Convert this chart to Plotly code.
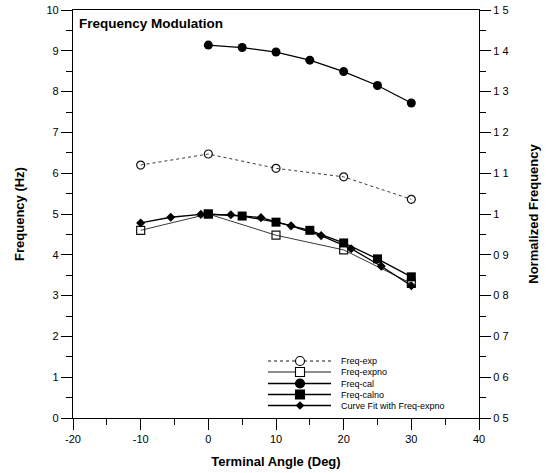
import plotly.graph_objects as go

# data
exp_x = [-10, 0, 10, 20, 30]
freq_exp = [6.2, 6.47, 6.12, 5.91, 5.36]
freq_expno = [4.6, 5.0, 4.48, 4.12, 3.3]

cal_x = [0, 5, 10, 15, 20, 25, 30]
freq_cal = [9.14, 9.08, 8.97, 8.77, 8.49, 8.15, 7.72]
freq_calno = [5.0, 4.95, 4.8, 4.6, 4.29, 3.9, 3.46]

fit_x = [-10, -5.56, -1.11, 3.33, 7.78, 12.22, 16.67, 21.11, 25.56, 30]
fit_y = [4.78, 4.92, 4.99, 4.98, 4.91, 4.71, 4.47, 4.15, 3.72, 3.24]

x_ticks = [-20, -10, 0, 10, 20, 30, 40]
x_text = ["-20", "-10", "0", "10", "20", "30", "40"]
y_ticks = [0, 1, 2, 3, 4, 5, 6, 7, 8, 9, 10]
y2_vals = [0.5, 0.6, 0.7, 0.8, 0.9, 1.0, 1.1, 1.2, 1.3, 1.4, 1.5]
y2_text = ["0 5", "0 6", "0 7", "0 8", "0 9", "1", "1 1", "1 2", "1 3", "1 4", "1 5"]

legend_names = ["Freq-exp", "Freq-expno", "Freq-cal", "Freq-calno", "Curve Fit with Freq-expno"]

FONT = "Liberation Sans, Arial, sans-serif"

W, H = 553, 473
# plot area on screen: x 73..479, y 10..418
ML, MT = 73, 10
MR = W - 479
MB = H - 418
PW, PH = W - ML - MR, H - MT - MB

def px(x):  # screen px -> paper
    return (x - ML) / PW

def py(y):
    return (H - MB - y) / PH

styles = [
    dict(line=dict(color="#222", width=0.9, dash="dot"),
         marker=dict(symbol="circle-open", size=8, color="#111", line=dict(width=1.2))),
    dict(line=dict(color="#222", width=0.9),
         marker=dict(symbol="square-open", size=8, color="#111", line=dict(width=1.2))),
    dict(line=dict(color="#000", width=1.3),
         marker=dict(symbol="circle", size=9, color="#000")),
    dict(line=dict(color="#000", width=1.3),
         marker=dict(symbol="square", size=9, color="#000")),
    dict(line=dict(color="#000", width=1.3),
         marker=dict(symbol="diamond", size=7, color="#000")),
]

series = [(exp_x, freq_exp), (exp_x, freq_expno), (cal_x, freq_cal), (cal_x, freq_calno), (fit_x, fit_y)]

fig = go.Figure()
for (xs, ys), name, st in zip(series, legend_names, styles):
    fig.add_trace(go.Scatter(x=xs, y=ys, name=name, mode="lines+markers", **st))
# empty trace so the right axis is drawn
fig.add_trace(go.Scatter(x=[None], y=[None], yaxis="y2", showlegend=False, hoverinfo="skip"))

# manual compact legend
shapes = []
annotations = []
row_y = [361, 372, 383.5, 394.5, 405.5]
lx0, lx1, mx, tx = 268, 331, 300, 339
for i, (name, yy) in enumerate(zip(legend_names, row_y)):
    st = styles[i]
    lw = st["line"]["width"]
    dash = st["line"].get("dash", "solid")
    shapes.append(dict(type="line", xref="paper", yref="paper", x0=px(lx0), x1=px(lx1), y0=py(yy), y1=py(yy),
                       line=dict(color="#000", width=lw, dash=dash)))
    r = 4.5
    sym = st["marker"]["symbol"]
    filled = not sym.endswith("open")
    fill = "#000" if filled else "white"
    if sym.startswith("circle"):
        shapes.append(dict(type="circle", xref="paper", yref="paper", x0=px(mx - r), x1=px(mx + r),
                           y0=py(yy + r), y1=py(yy - r), fillcolor=fill, line=dict(color="#000", width=1.1)))
    elif sym.startswith("square"):
        shapes.append(dict(type="rect", xref="paper", yref="paper", x0=px(mx - r), x1=px(mx + r),
                           y0=py(yy + r), y1=py(yy - r), fillcolor=fill, line=dict(color="#000", width=1.1)))
    else:
        d = 3.8
        path = "M {} {} L {} {} L {} {} L {} {} Z".format(px(mx), py(yy - d), px(mx + d), py(yy),
                                                          px(mx), py(yy + d), px(mx - d), py(yy))
        shapes.append(dict(type="path", xref="paper", yref="paper", path=path, fillcolor="#000",
                           line=dict(color="#000", width=1)))
    annotations.append(dict(text=name, xref="paper", yref="paper", x=px(tx), y=py(yy), xanchor="left",
                            yanchor="middle", showarrow=False, font=dict(family=FONT, size=9, color="#000")))

annotations.append(dict(text="<b>Frequency Modulation</b>", xref="paper", yref="paper", x=px(77), y=py(24),
                        xanchor="left", yanchor="middle", showarrow=False,
                        font=dict(family=FONT, size=13.5, color="#000")))

axis_common = dict(showgrid=False, zeroline=False, showline=True, linecolor="#000", linewidth=1.2,
                   ticks="outside", tickcolor="#000", tickwidth=1.2, automargin=False,
                   ticklabeloverflow="allow",
                   tickfont=dict(family=FONT, size=11, color="#000"))

fig.update_layout(
    width=W, height=H,
    margin=dict(l=ML, r=MR, t=MT, b=MB),
    paper_bgcolor="white", plot_bgcolor="white",
    showlegend=False,
    xaxis=dict(range=[-20, 40], tickvals=x_ticks, ticktext=x_text, ticklen=11, mirror=True,
               minor=dict(dtick=5, ticklen=6, ticks="outside", tickcolor="#000", tickwidth=1),
               title=dict(text="<b>Terminal Angle (Deg)</b>", font=dict(family=FONT, size=13, color="#000"), standoff=12),
               **axis_common),
    yaxis=dict(range=[0, 10], tickvals=y_ticks, ticklen=11,
               minor=dict(dtick=0.5, ticklen=6, ticks="outside", tickcolor="#000", tickwidth=1),
               title=dict(text="<b>Frequency (Hz)</b>", font=dict(family=FONT, size=13, color="#000"), standoff=18),
               **axis_common),
    yaxis2=dict(range=[0.5, 1.5], overlaying="y", side="right", anchor="x",
                tickvals=y2_vals, ticktext=y2_text, ticklen=11,
                minor=dict(dtick=0.05, ticklen=6, ticks="outside", tickcolor="#000", tickwidth=1),
                title=dict(text="<b>Normalized Frequency</b>", font=dict(family=FONT, size=13, color="#000"), standoff=21),
                **axis_common),
    shapes=shapes,
    annotations=annotations,
)
fig.write_html("out.html", config={"displayModeBar": False},
               post_script="document.body.style.margin='0';")
